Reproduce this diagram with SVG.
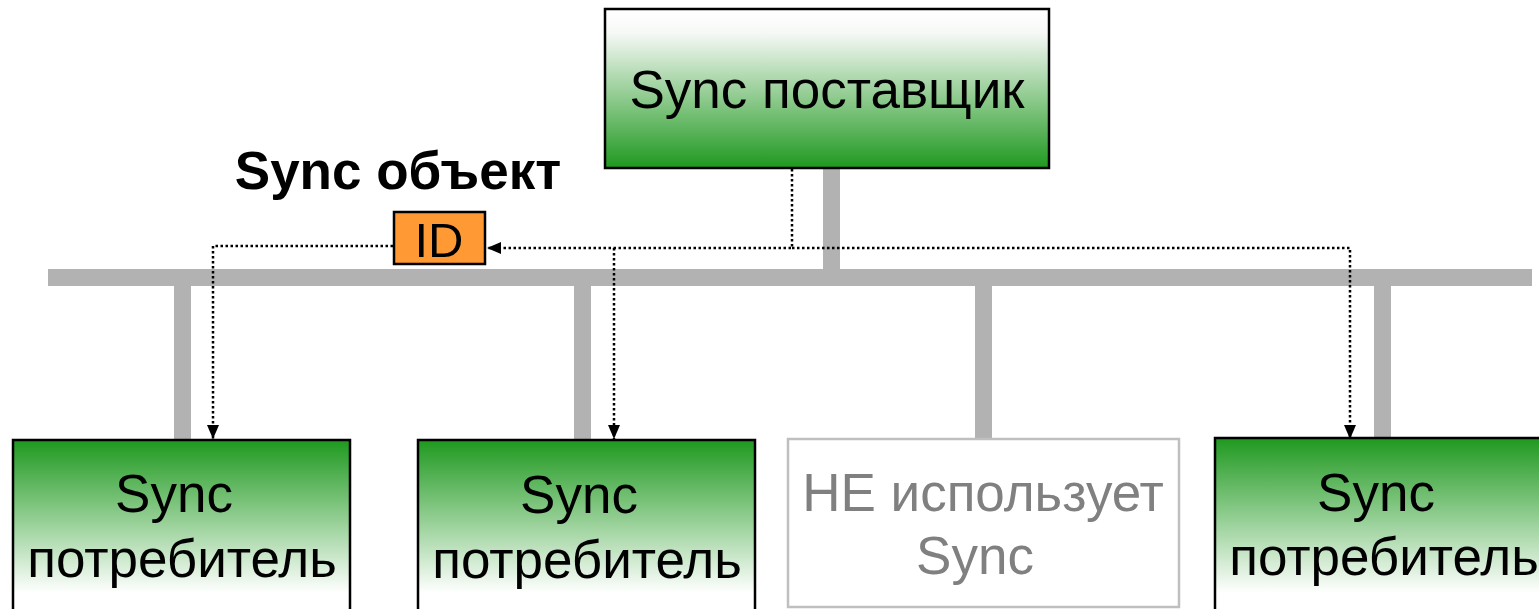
<svg xmlns="http://www.w3.org/2000/svg" width="1539" height="609" viewBox="0 0 1539 609">
<defs>
<linearGradient id="gDown" x1="0" y1="0" x2="0" y2="1">
<stop offset="0" stop-color="#1f991f"/>
<stop offset="0.85" stop-color="#ffffff"/>
<stop offset="1" stop-color="#ffffff"/>
</linearGradient>
<linearGradient id="gUp" x1="0" y1="0" x2="0" y2="1">
<stop offset="0" stop-color="#ffffff"/>
<stop offset="0.15" stop-color="#f6f8f6"/>
<stop offset="1" stop-color="#1f991f"/>
</linearGradient>
<marker id="arr" viewBox="0 0 14 14" refX="14" refY="7" markerWidth="14" markerHeight="14" markerUnits="userSpaceOnUse" orient="auto">
<path d="M0,1 L14,7 L0,13 Z" fill="#000"/>
</marker>
<style>
.bus{fill:#b2b2b2}
.box{stroke:#000;stroke-width:2.5}
.t{font-family:"Liberation Sans",Arial,sans-serif;font-size:53px;fill:#000;text-anchor:middle}
.grey{fill:#808080}
.dot{fill:none;stroke:#000;stroke-width:2.5;stroke-dasharray:2.5 2.5}
</style>
</defs>
<g id="bus">
<rect class="bus" x="48" y="269" width="1484" height="17"/>
<rect class="bus" x="823" y="168" width="17" height="101"/>
<rect class="bus" x="174" y="286" width="17" height="153"/>
<rect class="bus" x="574" y="286" width="17" height="153"/>
<rect class="bus" x="975" y="286" width="17" height="152"/>
<rect class="bus" x="1374" y="286" width="17" height="153"/>
</g>
<g id="provider">
<rect class="box" x="605" y="9" width="444" height="159" fill="url(#gUp)"/>
<text class="t" x="827" y="108">Sync поставщик</text>
</g>
<g id="consumer1">
<rect class="box" x="13" y="440" width="337" height="180" fill="url(#gDown)"/>
<text class="t" x="174" y="512">Sync</text>
<text class="t" x="182" y="577">потребитель</text>
</g>
<g id="consumer2">
<rect class="box" x="418" y="440" width="337" height="180" fill="url(#gDown)"/>
<text class="t" x="579" y="513">Sync</text>
<text class="t" x="587" y="578">потребитель</text>
</g>
<g id="nonuser">
<rect x="788" y="439" width="391" height="168" fill="#fff" stroke="#bfbfbf" stroke-width="2.5"/>
<text class="t grey" x="983" y="511">НЕ использует</text>
<text class="t grey" x="975" y="574">Sync</text>
</g>
<g id="consumer4">
<rect class="box" x="1215" y="438" width="340" height="182" fill="url(#gDown)"/>
<text class="t" x="1376" y="511">Sync</text>
<text class="t" x="1384" y="575">потребитель</text>
</g>
<g id="syncobject">
<text x="398" y="189" font-family="'Liberation Sans',Arial,sans-serif" font-size="53" font-weight="bold" text-anchor="middle" fill="#000">Sync объект</text>
<rect x="394" y="212" width="91" height="52" fill="#ff9933" stroke="#000" stroke-width="2.5"/>
<text x="439" y="257" font-family="'Liberation Sans',Arial,sans-serif" font-size="49" text-anchor="middle" fill="#000">ID</text>
</g>
<g id="connectors">
<path class="dot" d="M792,169 V248 H487" marker-end="url(#arr)"/>
<path class="dot" d="M792,248 H1350 V439" marker-end="url(#arr)"/>
<path class="dot" d="M614,248 V439" marker-end="url(#arr)"/>
<path class="dot" d="M393,246 H213 V439" marker-end="url(#arr)"/>
</g>
</svg>
